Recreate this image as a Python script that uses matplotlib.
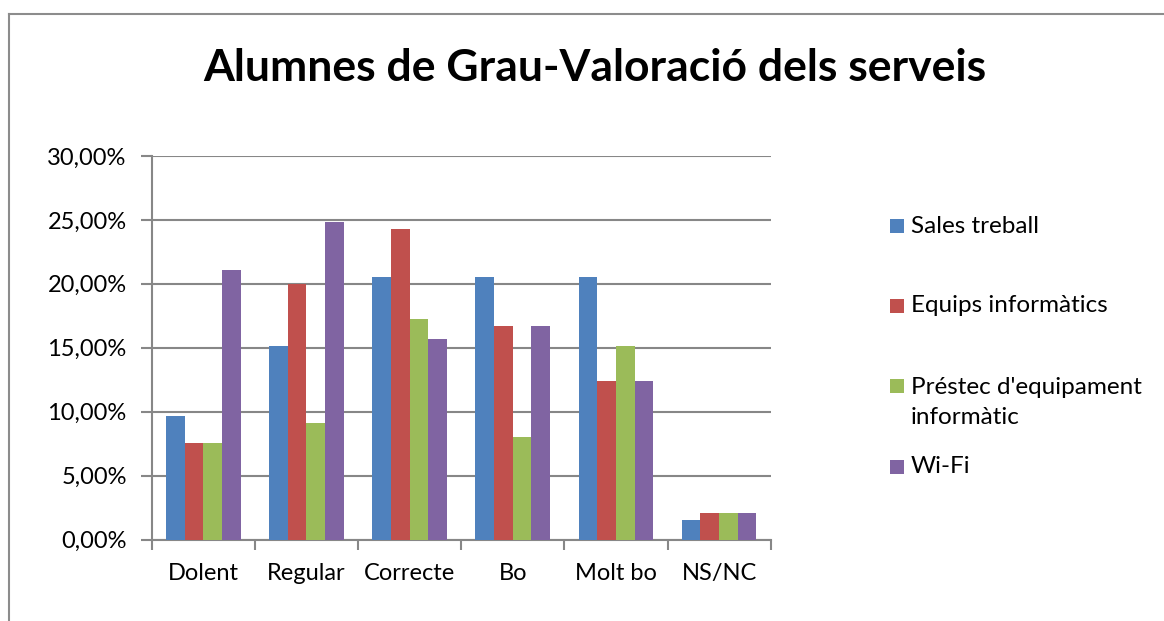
import matplotlib
matplotlib.use("Agg")
import matplotlib.pyplot as plt
from matplotlib.patches import Rectangle
from matplotlib.lines import Line2D
import numpy as np

categories = ["Dolent", "Regular", "Correcte", "Bo", "Molt bo", "NS/NC"]
series_names = ["Sales treball", "Equips informàtics", "Préstec d'equipament\ninformàtic", "Wi-Fi"]
sales_treball = [9.70, 15.10, 20.50, 20.50, 20.50, 1.55]
equips_informatics = [7.52, 20.00, 24.30, 16.70, 12.40, 2.10]
prestec_equipament = [7.52, 9.12, 17.25, 8.05, 15.10, 2.10]
wifi = [21.05, 24.85, 15.65, 16.70, 12.40, 2.10]
series_values = [sales_treball, equips_informatics, prestec_equipament, wifi]
colors = ["#4F81BD", "#C0504D", "#9BBB59", "#8064A2"]
yticks = [0, 5, 10, 15, 20, 25, 30]
title = "Alumnes de Grau-Valoració dels serveis"

FONT = "Lato"
GRAY = "#878787"
W, H = 1164, 621
fig = plt.figure(figsize=(W / 100, H / 100), dpi=100)
fig.patch.set_facecolor("white")

# outer chart border (left and top visible)
fig.add_artist(Line2D([9 / W, 9 / W], [0, 1 - 13.5 / H], transform=fig.transFigure, color="#8c8c8c", lw=1.5))
fig.add_artist(Line2D([9 / W, 1], [1 - 13.5 / H, 1 - 13.5 / H], transform=fig.transFigure, color="#8c8c8c", lw=1.5))

left, right, top, bottom = 151.7, 770.7, 156, 539.5
ax = fig.add_axes([left / W, 1 - bottom / H, (right - left) / W, (bottom - top) / H])

n = len(categories)
x = np.arange(n)
bw = 0.181
offsets = (np.arange(4) - 1.5) * bw
for vals, off, c in zip(series_values, offsets, colors):
    ax.bar(x + off, vals, width=bw, color=c, edgecolor="none", zorder=3)

ax.set_xlim(-0.5, n - 0.5)
ax.set_ylim(0, 30)
ax.set_yticks(yticks)
ax.set_yticklabels([f"{v:.2f}%".replace(".", ",") for v in yticks], fontfamily=FONT, fontsize=17)
ax.yaxis.grid(True, color=GRAY, lw=1.5, zorder=0)
ax.set_axisbelow(True)

ax.set_xticks(x)
ax.set_xticklabels(categories, fontfamily=FONT, fontsize=17)
ax.set_xticks(np.arange(n + 1) - 0.5, minor=True)
ax.tick_params(axis="x", which="major", length=0, pad=17)
ax.tick_params(axis="x", which="minor", length=7, width=1.5, color=GRAY, direction="out")
ax.tick_params(axis="y", which="major", length=8, width=1.5, color=GRAY, direction="out", pad=10)

for s in ["top", "right"]:
    ax.spines[s].set_visible(False)
for s in ["left", "bottom"]:
    ax.spines[s].set_color(GRAY)
    ax.spines[s].set_linewidth(1.5)

fig.text(595 / W, 1 - 68 / H, title, ha="center", va="center", fontfamily=FONT,
         fontweight="bold", fontsize=32)

# legend
sq_centers = [226, 305.5, 386, 466.5]
for name, c, yc in zip(series_names, colors, sq_centers):
    fig.add_artist(Rectangle((890 / W, 1 - (yc + 7) / H), 14.5 / W, 14 / H,
                             transform=fig.transFigure, facecolor=c, edgecolor="none"))
    if "\n" in name:
        fig.text(911 / W, 1 - (yc - 9) / H, name, ha="left", va="top", fontfamily=FONT,
                 fontsize=17.5, linespacing=1.55)
    else:
        fig.text(911 / W, 1 - yc / H, name, ha="left", va="center", fontfamily=FONT, fontsize=17.5)

fig.savefig("out.png", dpi=100)
